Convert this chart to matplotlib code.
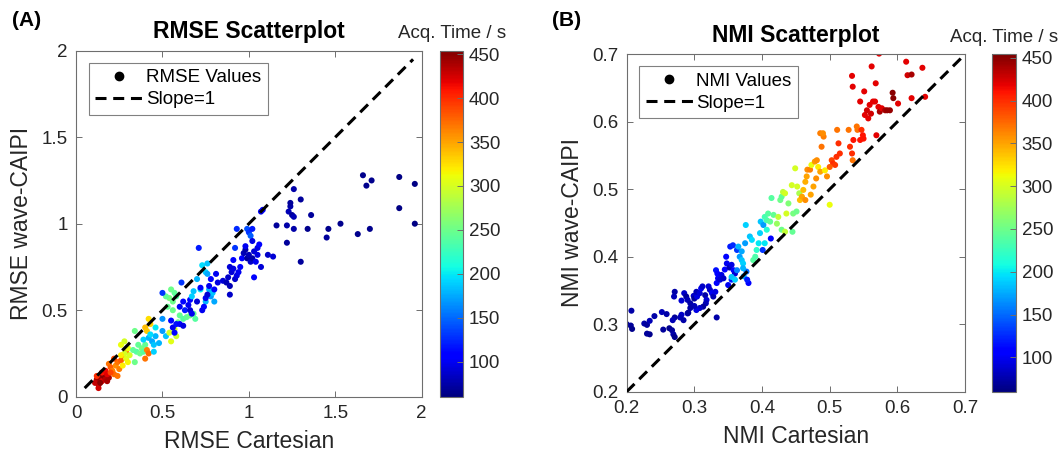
import matplotlib
matplotlib.use('Agg')
import numpy as np
from matplotlib import pyplot as plt
from matplotlib.lines import Line2D

plt.rcParams['font.family'] = ['Liberation Sans', 'DejaVu Sans']

# ---- (A) RMSE values: Cartesian vs wave-CAIPI, colour = acquisition time (s)
rmse_cart = [
    0.12, 0.13, 0.14, 0.15, 0.16, 0.17, 0.13, 0.18, 0.11, 0.15, 0.17, 0.19, 0.14, 0.18, 0.12,
    0.19, 0.20, 0.21, 0.22, 0.23, 0.24, 0.22, 0.25, 0.26, 0.20, 0.24, 0.27, 0.29,
    0.26, 0.28, 0.29, 0.30, 0.27, 0.31, 0.28, 0.30, 0.26,
    0.34, 0.33, 0.35, 0.37, 0.38, 0.36, 0.34, 0.39, 0.40,
    0.40, 0.41, 0.42, 0.40, 0.41, 0.43, 0.42,
    0.39, 0.42, 0.44, 0.45, 0.46, 0.45, 0.48, 0.50, 0.52, 0.50, 0.46, 0.43,
    0.54, 0.55, 0.58, 0.57,
    0.55, 0.57, 0.54, 0.56, 0.58, 0.53, 0.56, 0.60, 0.62, 0.64, 0.66, 0.68, 0.69, 0.59, 0.52,
    0.50, 0.55, 0.56, 0.57, 0.58, 0.60, 0.62, 0.60, 0.62, 0.63, 0.65, 0.66, 0.67, 0.61, 0.66,
    0.67, 0.68, 0.70, 0.72, 0.73, 0.75, 0.76, 0.77, 0.78, 0.80, 0.79, 0.75, 0.76,
    0.70, 0.71, 0.72, 0.73, 0.74, 0.75, 0.76, 0.77, 0.78, 0.81, 0.82, 0.80, 0.85, 0.87, 0.88,
    0.89, 0.89, 0.90, 0.91, 0.92, 0.93, 0.91, 0.94, 0.95, 0.89,
    0.92, 0.93, 0.96, 0.97, 0.98, 0.99, 1.00, 1.01, 1.02, 1.03, 1.04, 1.05, 1.06, 1.07,
    0.99, 1.00, 1.01, 1.02, 1.03, 1.05, 1.07, 1.08, 1.11, 1.14, 0.98, 1.02,
    1.16, 1.22, 1.22, 1.23, 1.24, 1.25, 1.26, 1.26, 1.26, 1.30, 1.30, 1.34, 1.36,
    1.45, 1.46, 1.53, 1.63, 1.66, 1.68, 1.71, 1.70, 1.87, 1.87, 1.96, 1.96, 1.24,
]
rmse_wave = [
    0.10, 0.07, 0.11, 0.09, 0.12, 0.10, 0.05, 0.09, 0.08, 0.14, 0.15, 0.11, 0.08, 0.13, 0.12,
    0.19, 0.17, 0.15, 0.13, 0.18, 0.20, 0.22, 0.16, 0.21, 0.14, 0.12, 0.24, 0.26,
    0.30, 0.25, 0.22, 0.20, 0.18, 0.24, 0.32, 0.28, 0.24,
    0.20, 0.27, 0.26, 0.25, 0.28, 0.30, 0.38, 0.26, 0.30,
    0.22, 0.27, 0.25, 0.40, 0.38, 0.42, 0.45,
    0.33, 0.34, 0.32, 0.30, 0.35, 0.26, 0.31, 0.38, 0.35, 0.45, 0.40, 0.36,
    0.37, 0.32, 0.35, 0.39,
    0.62, 0.60, 0.57, 0.55, 0.58, 0.52, 0.50, 0.47, 0.45, 0.46, 0.47, 0.48, 0.45, 0.43, 0.58,
    0.60, 0.44, 0.40, 0.37, 0.42, 0.42, 0.41, 0.52, 0.55, 0.50, 0.53, 0.50, 0.48, 0.66, 0.56,
    0.58, 0.61, 0.68, 0.62, 0.76, 0.72, 0.77, 0.62, 0.58, 0.55, 0.60, 0.55, 0.71,
    0.55, 0.86, 0.63, 0.50, 0.52, 0.57, 0.59, 0.64, 0.68, 0.71, 0.66, 0.62, 0.67, 0.66, 0.69,
    0.64, 0.59, 0.72, 0.74, 0.68, 0.70, 0.79, 0.72, 0.75, 0.75,
    0.86, 0.97, 0.80, 0.83, 0.85, 0.80, 0.82, 0.78, 0.80, 0.84, 0.78, 0.86, 0.88, 0.75,
    0.97, 0.95, 0.93, 0.97, 0.69, 0.82, 1.07, 1.08, 0.82, 0.81, 0.87, 0.90,
    0.99, 0.99, 0.89, 1.07, 1.10, 1.05, 1.04, 0.97, 1.20, 1.14, 0.78, 0.97, 1.05,
    0.92, 0.97, 1.00, 0.94, 1.28, 1.22, 1.25, 0.97, 1.27, 1.09, 1.23, 1.00, 1.12,
]
rmse_time = [
    440, 430, 445, 420, 450, 435, 425, 440, 430, 410, 415, 440, 450, 420, 400,
    370, 380, 365, 375, 360, 370, 385, 365, 380, 390, 370, 360, 365,
    310, 300, 305, 315, 320, 300, 300, 310, 320,
    250, 245, 240, 250, 255, 245, 250, 240, 245,
    370, 365, 375, 340, 335, 330, 325,
    190, 180, 175, 185, 180, 190, 180, 170, 185, 165, 200, 195,
    300, 305, 295, 300,
    250, 245, 255, 250, 240, 245, 250, 245, 240, 245, 250, 245, 240, 250, 245,
    130, 110, 100, 105, 115, 110, 95, 100, 110, 120, 100, 90, 100, 130, 105,
    190, 185, 180, 200, 195, 190, 185, 180, 170, 175, 185, 180, 175,
    90, 120, 110, 100, 110, 100, 90, 100, 110, 100, 95, 105, 90, 80, 85,
    80, 85, 90, 95, 85, 95, 110, 100, 110, 90,
    130, 125, 105, 80, 75, 70, 80, 85, 75, 90, 100, 95, 110, 90,
    140, 130, 145, 120, 105, 95, 100, 110, 85, 90, 100, 95,
    70, 75, 70, 80, 75, 70, 80, 75, 75, 70, 70, 65, 70,
    70, 65, 65, 65, 65, 65, 65, 65, 62, 62, 62, 62, 70,
]

# ---- (B) NMI values
nmi_cart = [
    0.200, 0.207, 0.206, 0.208, 0.226, 0.230, 0.234, 0.234, 0.241, 0.252, 0.259, 0.254, 0.263,
    0.267, 0.269, 0.271, 0.230, 0.333, 0.290,
    0.271, 0.270, 0.285, 0.288, 0.281, 0.290, 0.294, 0.299, 0.300, 0.304, 0.303, 0.308, 0.310,
    0.312, 0.316, 0.318, 0.317, 0.313, 0.308, 0.303, 0.300, 0.294, 0.291, 0.281, 0.279, 0.284,
    0.271, 0.268,
    0.321, 0.323, 0.326, 0.328, 0.331, 0.333, 0.335, 0.338, 0.332, 0.334, 0.340, 0.343, 0.345,
    0.348, 0.352, 0.355, 0.358, 0.360, 0.355, 0.350,
    0.347, 0.353, 0.357, 0.363, 0.365, 0.367, 0.370, 0.372, 0.370, 0.375, 0.377, 0.380, 0.373,
    0.355, 0.360, 0.363, 0.372, 0.378,
    0.376, 0.382, 0.385, 0.387, 0.390, 0.392, 0.395, 0.397, 0.398, 0.402, 0.404, 0.407, 0.409,
    0.412, 0.413, 0.407, 0.404, 0.401, 0.414, 0.417, 0.422, 0.424, 0.427, 0.429, 0.431, 0.434,
    0.436, 0.429, 0.434, 0.439, 0.444, 0.446, 0.445, 0.449, 0.451, 0.452, 0.455,
    0.456, 0.459, 0.461, 0.464, 0.466, 0.467, 0.464, 0.471, 0.472, 0.476, 0.480, 0.473, 0.478,
    0.481, 0.483, 0.486, 0.488, 0.486, 0.491, 0.490, 0.493, 0.496, 0.500,
    0.503, 0.505, 0.508, 0.510, 0.511, 0.513, 0.515, 0.500, 0.528, 0.530, 0.533, 0.534, 0.535,
    0.540, 0.541, 0.545, 0.547, 0.549, 0.550,
    0.551, 0.533, 0.534, 0.545, 0.552, 0.555, 0.557, 0.559, 0.561, 0.562, 0.564, 0.567, 0.568,
    0.569, 0.572, 0.573, 0.574, 0.577, 0.582, 0.585, 0.589, 0.593, 0.594, 0.601, 0.613, 0.615,
    0.621, 0.621, 0.637, 0.641,
]
nmi_wave = [
    0.300, 0.320, 0.298, 0.293, 0.301, 0.299, 0.285, 0.305, 0.312, 0.318, 0.315, 0.292, 0.294,
    0.291, 0.285, 0.281, 0.286, 0.310, 0.316,
    0.348, 0.341, 0.346, 0.341, 0.335, 0.336, 0.331, 0.342, 0.338, 0.341, 0.348, 0.346, 0.353,
    0.356, 0.343, 0.336, 0.331, 0.326, 0.324, 0.321, 0.327, 0.324, 0.317, 0.314, 0.310, 0.306,
    0.310, 0.306,
    0.356, 0.351, 0.346, 0.341, 0.348, 0.361, 0.368, 0.366, 0.380, 0.375, 0.373, 0.368, 0.381,
    0.390, 0.384, 0.388, 0.380, 0.375, 0.366, 0.358,
    0.400, 0.415, 0.417, 0.410, 0.415, 0.400, 0.395, 0.390, 0.408, 0.420, 0.378, 0.361, 0.371,
    0.370, 0.366, 0.380, 0.383, 0.366,
    0.447, 0.430, 0.425, 0.395, 0.400, 0.410, 0.420, 0.435, 0.452, 0.447, 0.459, 0.454, 0.464,
    0.452, 0.427, 0.440, 0.420, 0.410, 0.487, 0.462, 0.449, 0.459, 0.484, 0.489, 0.496, 0.494,
    0.464, 0.440, 0.437, 0.479, 0.506, 0.464, 0.437, 0.531, 0.467, 0.504, 0.494,
    0.484, 0.489, 0.499, 0.511, 0.519, 0.529, 0.484, 0.529, 0.492, 0.504, 0.516, 0.536, 0.541,
    0.543, 0.533, 0.526, 0.563, 0.583, 0.578, 0.583, 0.528, 0.519, 0.477,
    0.543, 0.538, 0.536, 0.548, 0.588, 0.568, 0.553, 0.533, 0.588, 0.563, 0.553, 0.543, 0.573,
    0.593, 0.588, 0.573, 0.588, 0.580, 0.575,
    0.645, 0.668, 0.652, 0.630, 0.610, 0.617, 0.605, 0.625, 0.612, 0.682, 0.630, 0.630, 0.657,
    0.580, 0.622, 0.701, 0.615, 0.620, 0.617, 0.617, 0.617, 0.643, 0.635, 0.627, 0.689, 0.669,
    0.670, 0.635, 0.680, 0.637,
]
nmi_time = [
    70, 75, 70, 65, 75, 70, 65, 80, 75, 80, 75, 70, 65, 70, 75, 65, 70, 75, 80,
    75, 80, 85, 70, 90, 80, 75, 85, 70, 95, 80, 90, 100, 85, 75, 90, 80, 70, 85, 95,
    80, 75, 70, 85, 80, 75, 70, 80,
    90, 85, 100, 80, 95, 110, 100, 90, 115, 105, 95, 85, 110, 100, 80, 95, 110, 90, 120, 100,
    110, 120, 125, 130, 180, 170, 185, 190, 175, 170, 150, 110, 175, 185, 190, 160, 180, 120,
    190, 185, 195, 240, 235, 220, 200, 190, 185, 170, 230, 235, 240, 245, 110, 215, 200, 130,
    240, 245, 270, 290, 250, 245, 290, 300, 300, 250, 290, 260, 300, 255, 245, 300, 250, 300, 280,
    340, 350, 340, 345, 350, 360, 360, 365, 350, 350, 360, 310, 355, 360, 320, 350, 370, 365,
    365, 360, 320, 360, 310,
    390, 400, 395, 400, 370, 400, 400, 380, 370, 400, 400, 370, 410, 370, 370, 410, 400, 410, 410,
    420, 420, 420, 420, 420, 425, 420, 420, 425, 420, 420, 420, 420, 420, 420, 420, 440, 420,
    440, 445, 445, 450, 450, 420, 420, 425, 440, 420, 420, 420,
]

time_range = (60, 454)
cbar_ticks = [100, 150, 200, 250, 300, 350, 400, 450]

TXT = '#262626'
EDGE = '#6e6e6e'


def style_axes(ax, lim, ticks):
    ax.set_xlim(lim)
    ax.set_ylim(lim)
    ax.set_xticks(ticks)
    ax.set_yticks(ticks)
    ax.xaxis.set_major_formatter(matplotlib.ticker.FormatStrFormatter('%g'))
    ax.yaxis.set_major_formatter(matplotlib.ticker.FormatStrFormatter('%g'))
    ax.tick_params(direction='in', top=True, right=True, length=4, width=0.7,
                   color=EDGE, labelcolor=TXT, labelsize=13.5, pad=6)
    for s in ax.spines.values():
        s.set_color(EDGE)
        s.set_linewidth(0.8)


def panel(fig, ax_rect, cax_rect, x, y, t, lim, ticks, line, name, letter, letter_x):
    ax = fig.add_axes(ax_rect)
    cax = fig.add_axes(cax_rect)
    sc = ax.scatter(x, y, c=t, cmap='jet', vmin=time_range[0], vmax=time_range[1],
                    s=19, linewidths=0, zorder=2)
    ax.plot(line, line, color='black', lw=2.2, ls=(0, (3.6, 2.2)), zorder=3)
    style_axes(ax, lim, ticks)
    ax.set_xlabel(name + ' Cartesian', fontsize=16.5, color=TXT, labelpad=6)
    ax.set_ylabel(name + ' wave-CAIPI', fontsize=16.5, color=TXT, labelpad=6)
    ax.set_title(name + ' Scatterplot', fontsize=16.5, fontweight='bold', pad=9)

    handles = [Line2D([], [], marker='o', ls='none', color='black', markersize=6),
               Line2D([], [], color='black', lw=2.2, ls=(0, (3.6, 2.2)))]
    leg = ax.legend(handles, [name + ' Values', 'Slope=1'], loc='upper left',
                    bbox_to_anchor=(0.037, 0.965), borderaxespad=0, fontsize=13.5,
                    fancybox=False, framealpha=1, edgecolor='#808080',
                    handlelength=2.5, handletextpad=0.2, labelspacing=0.25,
                    borderpad=0.35)
    leg.get_frame().set_linewidth(0.8)

    cb = fig.colorbar(sc, cax=cax, ticks=cbar_ticks)
    cb.outline.set_edgecolor(EDGE)
    cb.outline.set_linewidth(0.8)
    cax.tick_params(direction='in', length=4, width=0.7, color=EDGE,
                    labelcolor=TXT, labelsize=13.5, pad=4)
    cax.set_title('Acq. Time / s', fontsize=13.5, color=TXT, pad=9)

    fig.text(letter_x, 0.955, letter, fontsize=15, fontweight='bold', va='center')
    return ax


fig = plt.figure(figsize=(10.62, 4.62), dpi=100)

panel(fig, [0.0716, 0.1413, 0.3255, 0.749], [0.4143, 0.1413, 0.022, 0.749],
      rmse_cart, rmse_wave, rmse_time, (0, 2), [0, 0.5, 1, 1.5, 2], [0.05, 1.95],
      'RMSE', '(A)', 0.011)
panel(fig, [0.5901, 0.1522, 0.3186, 0.7303], [0.9338, 0.1522, 0.0229, 0.7303],
      nmi_cart, nmi_wave, nmi_time, (0.2, 0.7), [0.2, 0.3, 0.4, 0.5, 0.6, 0.7], [0.2, 0.7],
      'NMI', '(B)', 0.52)

fig.savefig('out.png', dpi=100)
